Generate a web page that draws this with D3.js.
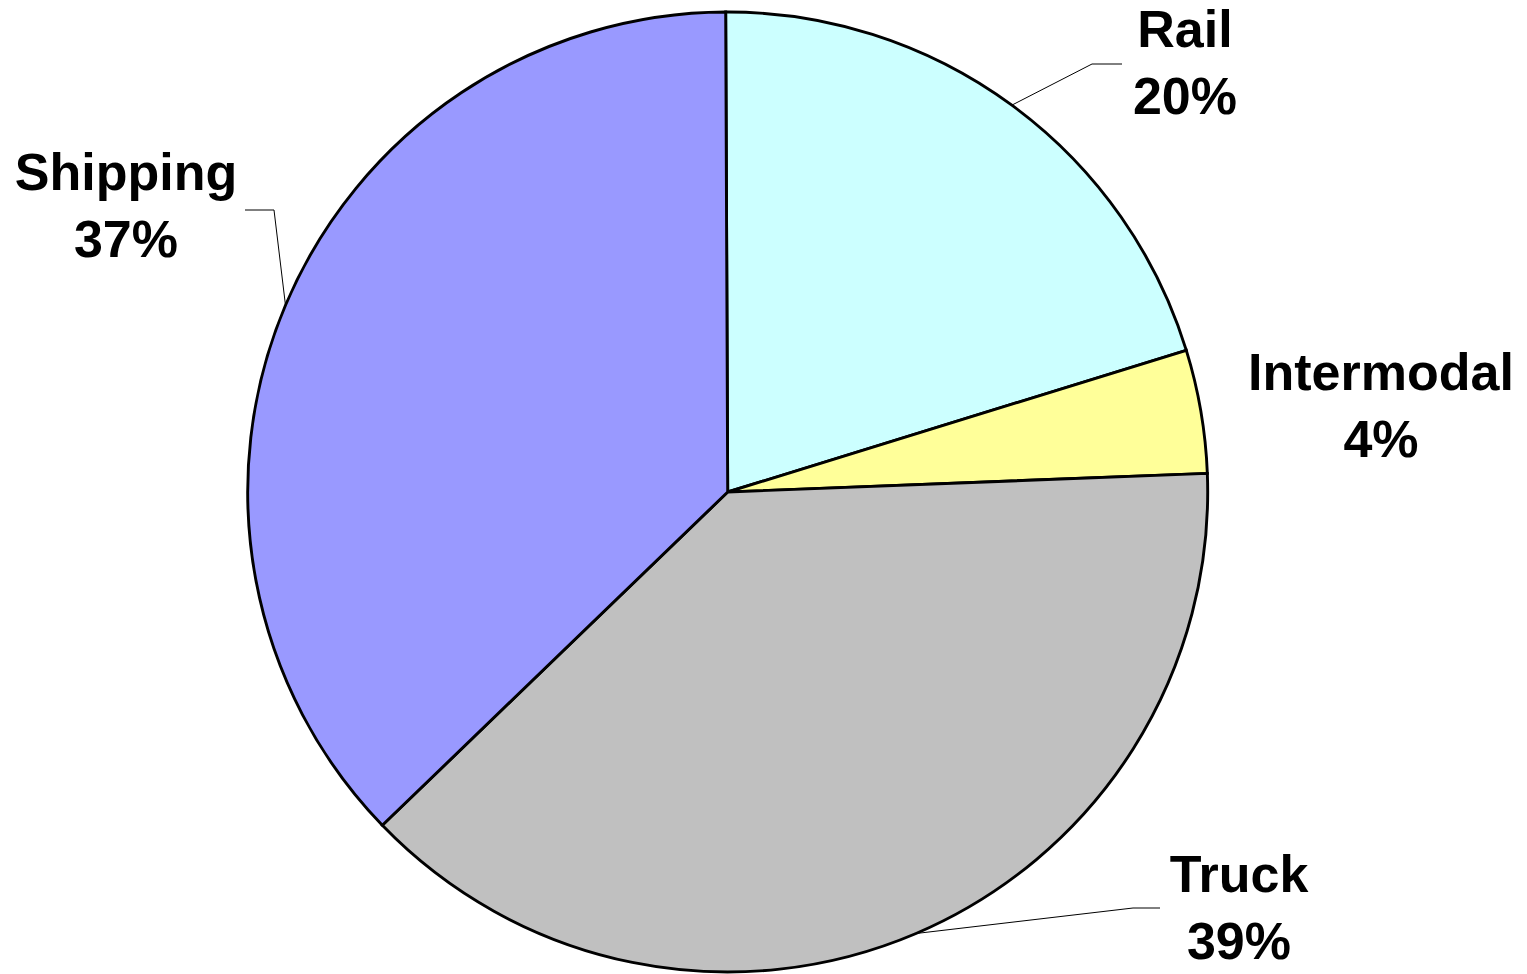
<!DOCTYPE html>
<html>
<head>
<meta charset="utf-8">
<script src="https://cdn.jsdelivr.net/npm/d3@7"></script>
<style>
  html, body { margin: 0; padding: 0; background: #fff; }
  svg { display: block; }
</style>
</head>
<body>
<svg id="chart" width="1527" height="974"></svg>
<script>
// ---- data ----
const categories = ["Rail", "Intermodal", "Truck", "Shipping"];
const values = [20.3, 4.15, 38.4, 37.15];
const percentLabels = ["20%", "4%", "39%", "37%"];
const colors = ["#CCFFFF", "#FFFF99", "#C0C0C0", "#9999FF"];

// ---- layout ----
const W = 1527, H = 974;
const cx = 727.7, cy = 492, R = 480;
const fontSize = 52;
// label layout: text anchor (centre x, first baseline y), leader elbow & end (null = no leader)
const labelLayout = {
  "Rail":       { x: 1185, y: 47,  elbow: [1092, 64],  end: [1122, 64] },
  "Intermodal": { x: 1381, y: 390, elbow: null, end: null },
  "Truck":      { x: 1239, y: 892, elbow: [1133, 908], end: [1160, 908] },
  "Shipping":   { x: 126,  y: 190, elbow: [274, 210],  end: [245, 210] }
};

const svg = d3.select("#chart");
svg.append("rect").attr("width", W).attr("height", H).attr("fill", "#fff");

const data = categories.map((c, i) => ({ name: c, value: values[i], pct: percentLabels[i], color: colors[i] }));

const pie = d3.pie().value(d => d.value).sort(null)
  .startAngle(-0.0042).endAngle(2 * Math.PI - 0.0042);
const arcs = pie(data);
const arc = d3.arc().innerRadius(0).outerRadius(R);

const g = svg.append("g").attr("transform", `translate(${cx},${cy})`);
g.selectAll("path.slice").data(arcs).enter().append("path")
  .attr("class", "slice")
  .attr("d", arc)
  .attr("fill", d => d.data.color)
  .attr("stroke", "#000")
  .attr("stroke-width", 2.9)
  .attr("stroke-linejoin", "miter");

// leader lines
arcs.forEach(a => {
  const L = labelLayout[a.data.name];
  if (!L.elbow) return;
  const mid = (a.startAngle + a.endAngle) / 2;
  const p0 = [cx + R * Math.sin(mid), cy - R * Math.cos(mid)];
  svg.append("polyline")
    .attr("points", [p0, L.elbow, L.end].map(p => p.join(",")).join(" "))
    .attr("fill", "none")
    .attr("stroke", "#000")
    .attr("stroke-width", 1);
});

// labels
arcs.forEach(a => {
  const L = labelLayout[a.data.name];
  const t = svg.append("text")
    .attr("x", L.x).attr("y", L.y)
    .attr("text-anchor", "middle")
    .attr("font-family", "'Liberation Sans', Arial, Helvetica, sans-serif")
    .attr("font-weight", "bold")
    .attr("font-size", fontSize)
    .attr("fill", "#000");
  t.append("tspan").attr("x", L.x).attr("y", L.y).text(a.data.name);
  t.append("tspan").attr("x", L.x).attr("y", L.y + 66.5).text(a.data.pct);
});
</script>
</body>
</html>
